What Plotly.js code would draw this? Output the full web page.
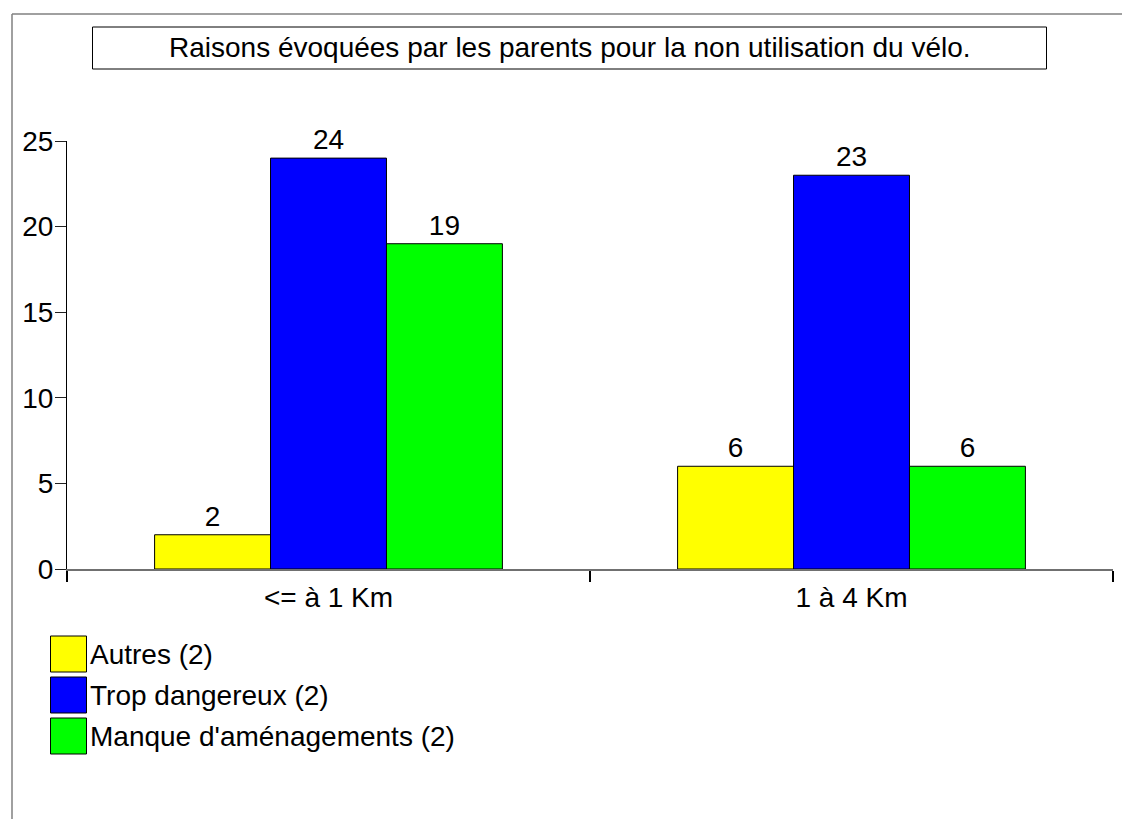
<!DOCTYPE html>
<html>
<head>
<meta charset="utf-8">
<script src="https://cdn.plot.ly/plotly-3.0.1.min.js"></script>
<style>html,body{margin:0;padding:0;background:#fff;}#chart{width:1122px;height:819px;}</style>
</head>
<body>
<div id="chart"></div>
<script>
const categories = ["<= à 1 Km", "1 à 4 Km"];
const seriesNames = ["Autres (2)", "Trop dangereux (2)", "Manque d'aménagements (2)"];
const autres = [2, 6];
const tropDangereux = [24, 23];
const manqueAmenagements = [19, 6];
const seriesColors = ["#FFFF00", "#0000FF", "#00FF00"];
const chartTitle = "Raisons évoquées par les parents pour la non utilisation du vélo.";
const yTicks = [0, 5, 10, 15, 20, 25];

const W = 1122, H = 819;
const L = 67, R = 1113, T = 141, B = 569;
const px = x => (x - L) / (R - L);
const py = y => (B - y) / (B - T);

const values = [autres, tropDangereux, manqueAmenagements];
const FONT = "Liberation Sans, Arial, sans-serif";
const FS = 28;

const traces = values.map((v, i) => ({
  type: "bar",
  x: categories,
  y: v,
  name: seriesNames[i],
  text: v.map(String),
  textposition: "outside",
  cliponaxis: false,
  textfont: {family: FONT, size: FS, color: "#000"},
  marker: {color: seriesColors[i], line: {color: "#000", width: 1}},
  showlegend: false,
  hoverinfo: "none"
}));

const shapes = [
  {type: "line", xref: "paper", yref: "paper", x0: px(12), x1: px(12), y0: py(14), y1: py(830), line: {color: "#808080", width: 1.5}},
  {type: "line", xref: "paper", yref: "paper", x0: px(12), x1: px(1130), y0: py(14), y1: py(14), line: {color: "#808080", width: 1.5}},
  {type: "rect", xref: "paper", yref: "paper", x0: px(92.5), x1: px(1046.5), y0: py(27), y1: py(69), line: {color: "#000", width: 1}, fillcolor: "rgba(0,0,0,0)"}
];
const annotations = [
  {xref: "paper", yref: "paper", x: px(569.5), y: py(48), text: chartTitle, showarrow: false,
   xanchor: "center", yanchor: "middle", font: {family: FONT, size: FS, color: "#000"}}
];
const legendTops = [636, 677, 718];
seriesNames.forEach((n, i) => {
  const t = legendTops[i];
  shapes.push({type: "rect", xref: "paper", yref: "paper", x0: px(50.5), x1: px(86.5), y0: py(t), y1: py(t + 36),
    line: {color: "#000", width: 1}, fillcolor: seriesColors[i]});
  annotations.push({xref: "paper", yref: "paper", x: px(88), y: py(t + 18), text: n, showarrow: false,
    xanchor: "left", yanchor: "middle", font: {family: FONT, size: FS, color: "#000"}});
});

const layout = {
  width: W, height: H,
  margin: {l: L, r: W - R, t: T, b: H - B, pad: 0},
  paper_bgcolor: "#fff", plot_bgcolor: "#fff",
  font: {family: FONT, size: FS, color: "#000"},
  barmode: "group",
  bargap: 0.335,
  bargroupgap: 0,
  showlegend: false,
  xaxis: {
    type: "category",
    showline: true, linecolor: "#707070", linewidth: 1.5,
    ticks: "outside", tickson: "boundaries", ticklen: 11, tickcolor: "#000", tickwidth: 1.5,
    ticklabelstandoff: 3,
    showgrid: false, zeroline: false,
    tickfont: {family: FONT, size: FS, color: "#000"},
    fixedrange: true
  },
  yaxis: {
    range: [0, 25],
    tickvals: yTicks,
    showline: true, linecolor: "#000", linewidth: 1,
    ticks: "outside", ticklen: 11, tickcolor: "#222", tickwidth: 1,
    ticklabelstandoff: -4,
    showgrid: false, zeroline: false,
    tickfont: {family: FONT, size: FS, color: "#000"},
    fixedrange: true
  },
  shapes: shapes,
  annotations: annotations
};

Plotly.newPlot("chart", traces, layout, {displayModeBar: false, staticPlot: true});
</script>
</body>
</html>
